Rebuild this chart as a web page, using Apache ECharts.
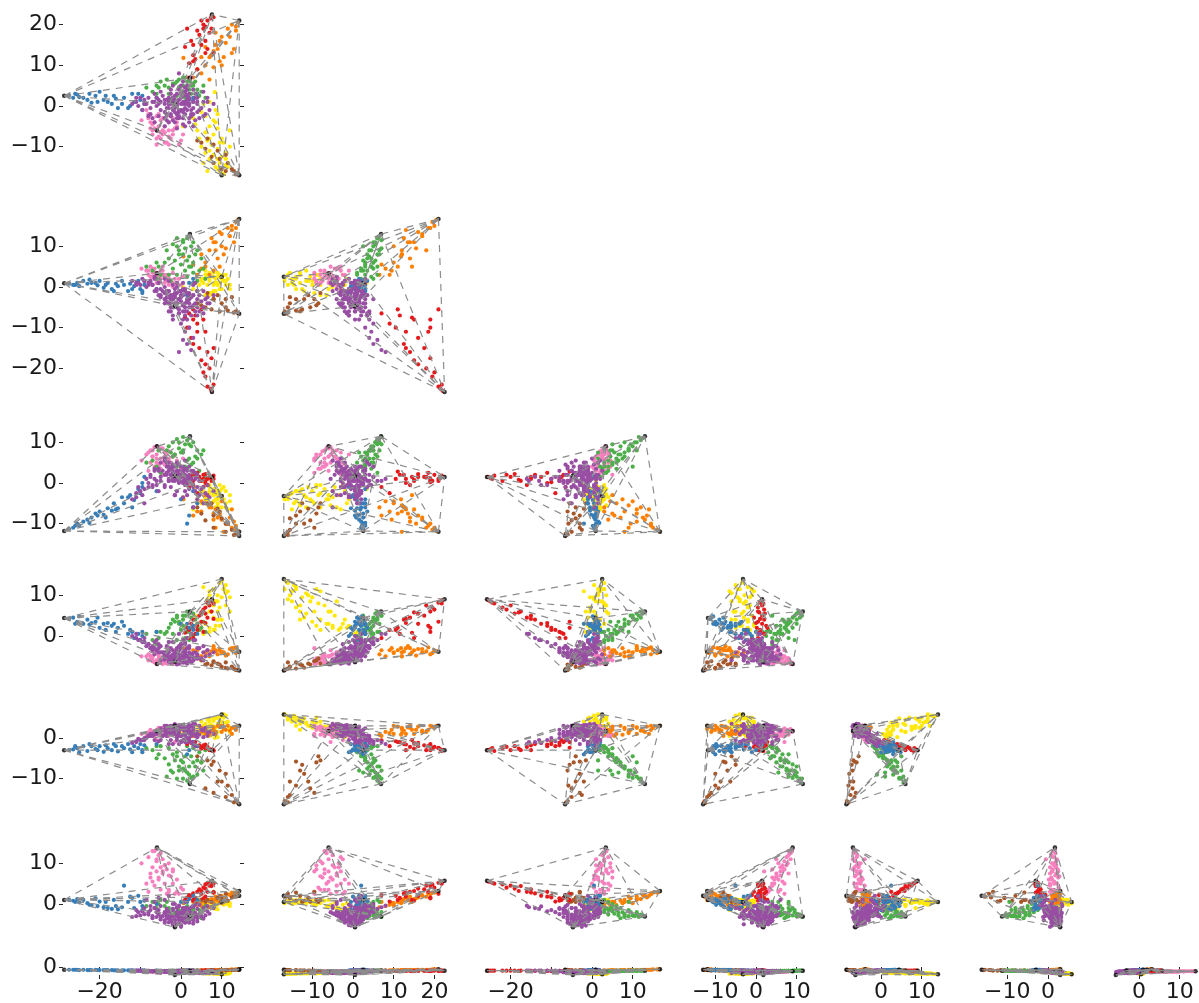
<!DOCTYPE html>
<html><head><meta charset="utf-8">
<script src="https://cdn.jsdelivr.net/npm/echarts@6/dist/echarts.min.js"></script>
<style>html,body{margin:0;padding:0;background:#fff}#c{width:1199px;height:1003px}</style>
</head><body><div id="c"></div>
<script>
// Each row: [PC1,PC2,PC3,PC4,PC5,PC6,PC7,PC8]
const bluePts=[[-27.5,2.5,.8,-11.3,4.2,-3,1,-.9],[-26.5,2,.5,-11,4.5,-2.8,.8,-.9],[-25.5,2.8,1,-10,3.5,-2.5,1.2,-.9],[-25,2.2,.2,-10.5,4.8,-3.5,.4,-1],[-24,2,1.5,-9.5,3,-2,1,-.9],[-23,1.5,.8,-9,4,-3.2,.2,-1],[-22.5,3,1.8,-9.8,2.8,-1.5,-.2,-1],[-21,2.5,1,-7.5,3.5,-2.7,1.4,-.9],[-20.5,1,.4,-8,4.5,-3,-.5,-1],[-20,3.5,1.5,-7,2,-2,.6,-1],[-19,1.5,-.2,-7.8,3,-3.4,-.8,-1],[-18.5,2.5,.5,-8.5,1.5,-1.8,.5,-1],[-18,1,1,-6.2,3.2,-2.5,-1,-1],[-17,.5,-.5,-6.8,2.5,-3,-1.2,-1],[-16,1.8,.8,-6.5,1,-2,-.5,-1.1],[-15.5,-.5,.2,-6.2,2,-3.3,-1.3,-1.1],[-14,2,.5,-5,2.5,-2.5,4.5,-1.1],[-13,-.5,-1,-3.5,.5,-1.5,.5,-1.1],[-12.5,0,.8,-3,1.5,-2.8,1.8,-1.1],[-11.5,1,.2,-4.2,-.5,-2,-1,-1.2],[-10.5,3,1.5,-1.5,.5,-2.5,2,-1.2],[-10,1.5,-.5,-2.5,-1,-1.5,.5,-1.2],[-9.5,2.5,-1,0,1,-3,-.5,-1.2],[-9,.5,.5,1.5,-1.5,-1.8,.8,-1.2],[-9.5,-1,-1.5,-1,0,-3.5,-1.5,-1.2],[-6,2,-.5,-2,1,-1.5,0,-1.2],[3,1.5,2,-2,1.5,-1,2,-1.2],[4,3,-1,-5,.5,-2,1,-1.2],[2,.5,1,-8,2,-3,1.2,-1.2],[1.5,2.5,-2,-10,3,-4,.5,-1.1],[-26,3,.5,-10.5,3,-2,.5,-.9],[-22,.8,1,-8.5,3.2,-2,-.3,-1],[-16.5,2.5,-1,-5,3,-1.5,1,-1.1],[-12,3,-.5,-6,1,-3.5,1.5,-1.1],[-14.5,.5,1.5,-3.5,3.5,-2,-.8,-1.1],[0,3,-1,-4,3,-1,.5,-1.2],[3,2,1,-6,2.5,-1.5,-.5,-1.2]];
const orangePts=[[14,20.5,16.5,-11.8,-3.8,3,3,-.8],[13.5,19.5,16,-11.5,-4.2,2.8,2.8,-.8],[12.5,20,15,-11,-3.5,2.5,2.8,-.8],[13.5,18.5,14.5,-10.5,-2.8,2,2.6,-.9],[11.5,19,14.5,-10,-4.5,3,2.4,-.9],[13,14,11,-9.5,-3,2.5,1.8,-.9],[10,17,13,-9,-4,1.5,2,-.9],[9.5,16,13.5,-8,-3.2,2.8,1.6,-.9],[11,15.5,9.5,-10,-4.8,2,1.4,-.9],[8.5,15,11,-6.5,-3.5,1,1.2,-1],[8,13.5,11,-7.5,-2.5,2.6,1,-1],[9,14,7,-8.5,-4.5,3,.8,-1],[7.5,12.5,12,-6,-3.8,1.8,1.2,-1],[7,12,9,-5.5,-5,1.2,.6,-1],[.6,11.8,7.5,-4,-3,.8,.2,-1],[9.5,11,5,-7.5,-3.5,2.8,.5,-1],[6,10,6,-5,-4.2,1,-.3,-1.1],[8,9.5,4,-9,-3,2,.3,-1.1],[5,8,4.5,-4.5,-5,1.5,-.5,-1.1],[10.5,12,8,-12,-4,2.2,1,-1],[7,6.5,3,-6,-4.5,.8,-.8,-1.2],[4,9,3,-7,-3.5,1.2,-.2,-1.1],[12,17,12.5,-8.5,-3.2,1.8,2.2,-.9],[6,14.5,5,-3,-4,2,.5,-1],[12.5,13,14,-6.5,-3,1,2,-.9],[5,12,8,-7,-5,2.5,.5,-1],[8.5,18,9,-11,-3.8,1.5,1.8,-.9],[10,10,10,-4.5,-4,3,.2,-1],[3,7,5.5,-8,-3.5,.5,.5,-1.1]];
const greenPts=[[2,6.5,12.5,11,5.5,-11,-3,-1.2],[1.5,6,12,10.5,6,-10.5,-2.8,-1.2],[.5,7,11.5,11.3,5,-10,-3.2,-1.2],[3,5.5,11,10,5.5,-9.5,-2.5,-1.2],[-1,6,12,10.8,4.5,-10,-2.6,-1.2],[2.5,5,10,9,4.5,-9.8,-2.8,-1.2],[-2,5.5,10.5,10,4,-8.5,-3,-1.2],[1,7,9.5,9.5,5,-8,-2,-1.2],[4,4,9,8,3,-9,-3,-1.3],[-.5,4.5,9,8.5,3.5,-8,-1.5,-1.3],[3.5,6,8,6.5,4,-7,-2.5,-1.3],[.5,3.5,8,7.5,2.5,-7.5,-3.2,-1.3],[-3,4.5,7,9,2,-6.5,-1,-1.3],[2,4,7.5,6,1.5,-7,-2,-1.3],[-1.5,5.5,6.5,7,3.5,-5.5,-2.2,-1.3],[1.5,2.5,6.5,5.5,1,-8.5,-2.8,-1.3],[3,5,6,5,2.5,-6,-1.5,-1.3],[-4,5,6,6,.5,-5,-.5,-1.3],[0,3,5.5,7.5,1.5,-5.5,-2.4,-1.4],[2.5,3,5,4.5,.5,-4.5,-1.8,-1.4],[-5.5,4.5,5,8,-.5,-4,0,-1.4],[-2,2,4.5,6.5,.5,-4,-1.2,-1.4],[1,2,4,4,-.5,-4.5,-2.6,-1.4],[4.5,2.5,4,3,1.5,-3.5,-1.5,-1.4],[-7,3.5,4,5.5,-1,-3,.5,-1.4],[-8.5,4.5,5,5,.5,-2.5,-.5,-1.4],[-1,1,3,5,-1,-3.5,-2,-1.4],[3,1,3.5,2.5,0,-2.5,-1,-1.4],[-3,3,3,4,-1.5,-2.5,-1.5,-1.4],[-5,6,3,2.5,1,-2,1,-1.4],[1.5,4.5,2.5,3.5,1,-2,-.5,-1.4],[5,3.5,7,7,2,-6,-3.5,-1.3],[-.5,6.5,8,10,3,-7,-3,-1.3],[-6,5,2,4,-2,-2,.5,-1.4],[6,2,2,1.5,1,-3,-.5,-1.3],[-6,3,6,3.5,1,-5,-1,-1.3],[5.5,5,4.5,8,3.5,-8,-1,-1.3],[-3.5,6.5,9,8,1,-9.5,.5,-1.3],[.5,5,11,8,4,-6,-2,-1.3],[4,3,1.5,6,2.5,-5.5,-2.8,-1.3],[-1,2.5,10,4,5,-4.5,-2.8,-1.3],[2,6,5,9.5,-1,-9,-1.5,-1.3],[-2.5,1.5,1.5,7.5,3,-8,-3,-1.3]];
const redPts=[[7.5,22,-25.5,1.5,8.8,-3,5.5,-1.2],[7.3,21.5,-25,1.2,8.5,-2.8,5.4,-1.2],[8,21.8,-24,1.8,8,-3.2,5,-1.2],[6.5,21,-24.5,1,8.2,-2.5,5.2,-1.2],[6,19.5,-22,.5,7,-2.5,4.8,-1.2],[7,18,-20,1.5,7.5,-3,4.5,-1.2],[5.5,20,-21,2,6.5,-2.2,4,-1.2],[7.5,19,-17.5,.5,6,-3,4.4,-1.2],[6,16,-19,2.2,5.5,-2,3.8,-1.2],[5,15,-18,.8,5.8,-2.6,3.2,-1.3],[4.5,17.5,-15,1.5,5,-1.8,3.6,-1.3],[6.5,14,-16,-.5,4.5,-2.2,3,-1.3],[8,13,-15,1,4.2,-3,2.8,-1.3],[3,12.5,-14,2,4,-1.5,2.6,-1.3],[5,21,-5.5,.5,3.5,-2.4,2.5,-1.3],[2.5,16,-12.5,1.5,3,-1.2,2,-1.3],[4,18.5,-11,2.5,2.5,-2,3,-1.3],[6,13,-11,0,3.2,-1.6,1.8,-1.3],[2,10.5,-10,1,1.5,-.8,2,-1.4],[1.5,19,-10,.2,2,-1.5,1.6,-1.3],[5.5,19,-8,1,1,-1.8,1.4,-1.3],[3.5,11.5,-7,2,.5,-1,1.5,-1.4],[1,14.5,-7.5,1.5,.8,-.5,1,-1.4],[3,15,-8,.5,-.5,-1.2,.8,-1.4],[2,7,-6.5,-1,-.5,-.6,2.2,-1.4],[4,9,-9,-2.5,1.5,-2,.6,-1.4],[3,11,-5.5,2.8,2,-1,1,-1.4]];
const purplePts=[[-1.5,.5,-4.5,1.8,-6,3,-5.5,-1.6],[-1,0,-4,1.5,-5.8,2.5,-5,-1.6],[0,-1,-3.5,2,-6,2.8,-5.2,-1.7],[-2,1,-3,2.5,-5.5,2,-4.8,-1.5],[1,.5,-5,1,-6.2,2.2,-4.5,-1.7],[-3,-.5,-2.5,3,-5,2.6,-4.5,-1.6],[-.5,1.5,-5.5,.5,-5,1.5,-4.8,-1.5],[.5,-1.5,-2,2.5,-6.5,3.2,-4.2,-1.8],[2,0,-4,.5,-5.5,1.8,-4,-1.7],[-2.5,-2,-2,3.5,-6,3,-4,-1.7],[-4,.5,-1.5,2,-4.5,2,-4,-1.6],[1.5,1.5,-3.5,.5,-4.8,1.2,-4.2,-1.6],[3,-.5,-4.5,-.5,-6,2.5,-3.8,-1.8],[-1.5,2.5,-4,1,-4.2,1,-3.8,-1.4],[-5,-1,-.5,1.5,-4,1.5,-3.8,-1.6],[.5,2.5,-6,0,-4.5,.8,-3.8,-1.4],[2.5,-2,-2.5,1,-6.5,3,-3.5,-1.9],[-3.5,1.5,-2.5,4,-4.8,1.5,-3.5,-1.5],[-.5,-3,-1,3,-6.8,3.2,-3.4,-1.8],[4,1,-5,-1,-5,1.5,-3.5,-1.7],[-6,0,-.5,.5,-3.5,1.2,-3.2,-1.5],[1,3.5,-7,.5,-4,.5,-3.2,-1.4],[-2,-3.5,.5,4.5,-6.2,2.5,-3,-1.7],[5,-.5,-3.5,-1.5,-5.5,2,-3,-1.9],[-4.5,2.5,-1,3,-4,.5,-3,-1.4],[2,-3,-1.5,.5,-6,3.2,-3,-1.9],[-7,1,.5,-.5,-2.5,.8,-3,-1.4],[3.5,2,-6,-2,-4,.5,-3,-1.5],[-1,3,-5,3,-3.5,.2,-2.8,-1.4],[-3,-4,1.5,5,-5.5,2.2,-2.8,-1.6],[6,-2,-3,-2.5,-5,2.5,-2.8,-2],[-8,2,1,0,-2,.5,-2.6,-1.3],[.5,-4.5,1,2,-6.5,3,-2.5,-1.9],[-5.5,-2.5,1,3.5,-4,1.5,-2.5,-1.5],[4.5,-3,-2,-3,-5.5,3,-2.5,-2],[1.5,4,-8,.5,-3,0,-2.5,-1.3],[-2.5,4,-6,2,-3,-.5,-2.4,-1.3],[-9,.5,1.5,-1.5,-1.5,0,-2.5,-1.3],[7,-1,-4,-3.5,-4.5,1.5,-2.4,-2],[-4,-5,2,5.5,-5.8,2,-2.3,-1.6],[2.5,-1,-7,0,-4.5,1.5,-2.2,-1.7],[-10,2,.5,-2,-1,-.5,-2.8,-1.2],[-.5,-1.5,-6.5,2,-4.5,2.5,-2.2,-1.6],[-11,1,1,-3.5,-.5,-.8,-3,-1.2],[-12,.5,1.5,-4,0,-1.2,-3.2,-1.2],[-9.5,-1,2,-3,-1.5,-.5,-1.8,-1.3],[-7.5,-2,1.5,2,-3,.5,-1.5,-1.4],[-6.5,3,2,1,-1.5,-.5,-1,-1.3],[-3,.5,-6,4,-4,1.5,-2,-1.4],[0,5,-9,1.5,-2,-.8,-2,-1.2],[1,4.5,-11,-.5,-1.5,-.5,-1.8,-1.2],[2,3,-10,1,-2.5,0,-1.5,-1.2],[.5,6,-13,.5,-1,-.5,-1.2,-1.2],[1.5,5,-14,1.5,-.5,-1,-1,-1.2],[2.5,7,-15.5,.5,.5,-1,-.8,-1.2],[3,4,-12.5,-.5,-1,-1.2,-.6,-1.2],[-.5,8,-16,1,.5,-1.5,-.4,-1.2],[4,2,-7,-4,-3,1,-1.2,-1.7],[5.5,1,-5,-5,-4,1.8,-1,-1.8],[3,-5,.5,-6,-6,3.5,-.5,-2],[-2,-1,-7,.5,-4.8,3,-1.5,-1.5],[.5,.5,-8,3,-4,2,-1,-1.4],[-1,-2,-5,5,-5,2.2,-1,-1.5],[6.5,2,-2.5,-.5,-3.5,.5,-.5,-1.7],[8,.5,-2,-2,-4,1,-1,-1.9],[-5,3.5,-2,5,-2.5,-.5,-.5,-1.3],[-2,5,-3,4,-1.5,-1.5,0,-1.3],[-6.5,-4,2.5,3,-4.5,1,.5,-1.4],[-4,-3,0,6,-4.5,1.8,1,-1.5],[-1.5,-4,-.5,-3,-6,3.4,0,-1.8],[-8.5,.5,0,1,-2.5,0,1,-1.3],[-5.5,1.5,1,-2,-2,-.8,1.5,-1.3],[-3,2,-1,.5,-1.5,-1.5,2,-1.3],[1,1,-.5,2,-2,-1,.5,-1.4],[3.5,3,1,1,-1,-2,-.2,-1.4],[-1,.5,0,2.5,-3,-.5,-.8,-1.4],[-3.5,-.5,-3.5,2,-2.5,.5,-1.8,-1.4],[-7,-3,.5,-1,-3.5,.5,-3.5,-1.5],[2,.5,-2,-1.5,-3,-.2,-2,-1.5],[-.5,-2.5,-3,0,-3.5,1,-3.8,-1.6],[-2.5,.5,-5,-1,-5.5,2.5,-4.2,-1.6],[1,-2,-6,3.5,-5.2,1.5,-4.6,-1.7],[-1,1,-1.5,-2,-4,1,-3,-1.5],[3,1,-2,3,-4.2,2,-4.8,-1.7],[-4,-1.5,-3,-.5,-5,3,-2,-1.5],[0,2,-1,4,-3,-1,-4,-1.4],[-1.5,-.5,-1.5,.5,-5.5,1,-5.3,-1.6],[1.5,-1,-3,3,-6.8,1.8,-3.2,-1.8],[-3,.5,-4,.5,-6.3,2.8,-2.5,-1.6],[4,-1.5,-1,1.5,-4.5,1,-4.3,-1.8],[-2,2,-2,1,-5,1.5,-4.5,-1.5],[1,-.5,-1,3.5,-4.5,2.5,-3.5,-1.6],[-.5,-1,-3,.5,-5.5,2,-4,-1.6],[.5,1,-4.5,2.5,-5,.8,-3.2,-1.5],[-1.5,-1.5,-2,4,-6,1.8,-4.2,-1.7],[2,1.5,-3,2,-4,2.8,-4.6,-1.6],[-3,1,-1,1,-3.5,2.2,-3.6,-1.5],[3,-2,-2,-1,-5.2,1.2,-4,-1.8],[-2,-.5,-5,3,-4.5,3,-5,-1.6],[0,.5,-2.5,1.5,-6.5,.5,-5.6,-1.7],[1.5,2.5,-1.5,-.5,-3,2,-3.4,-1.5],[-1,-3,-4,1,-5,2.8,-2.8,-1.7],[4,.5,-3,2,-5.5,.2,-3,-1.7],[-4,1.5,-4,-1,-4,.8,-4.6,-1.5],[-2.5,3,-3,3.5,-5,2.4,-3,-1.4],[2.5,-2.5,-5,3,-4.8,.5,-2.6,-1.8],[-5.5,.5,-2,3,-3,1.8,-1.5,-1.4],[5.5,-2.5,-1,-1,-6,2.2,-3.6,-2],[6.5,1,-4,-3,-3.5,1.5,-1.8,-1.8],[-6,2,-1,-.5,-1,1,-2,-1.3],[-7.5,-.5,1,1.5,-3,1,-.5,-1.4],[-8,-2.5,.5,-1,-2,.5,-2,-1.4],[-10.5,0,1,-1,-1,-.2,-2,-1.2],[-9,1.5,1.5,-5,-.5,-.5,-1,-1.2],[-11,2,.5,-2.5,.5,-1,-1.5,-1.2],[-6.5,1,-1,3.5,-3,1.5,-1,-1.4],[-3.5,-2,-1,2.5,-4,3,-1.2,-1.5],[-.5,4,-6.5,4.5,-2.5,.5,-.6,-1.3],[1,3,-4,5.5,-3.5,-.5,-1,-1.4],[2,-4,-3,4,-5.8,2.6,-1.8,-1.8],[4.5,-1,-6,.5,-3,.8,-.2,-1.7],[-1,-5.5,1,1,-7,2.8,-2,-1.9],[1,-5,-1,-2,-6.5,2,-1,-1.9],[3.5,-3.5,-4,2.5,-5.5,3.4,-2.2,-1.9],[5.5,3.5,-6.5,-1,-2.5,.2,-1.6,-1.6],[-2,1.5,-8,1.5,-3.5,1,-1.2,-1.4],[-3.5,-3.5,-1.5,5,-5,.5,-3,-1.6],[.5,-1,-.5,-3.5,-4.5,3,-2.6,-1.7],[1.5,.5,-6,-3,-5,2.8,-3.6,-1.7],[-1.5,1.5,-2.5,-3,-4.8,2,-5,-1.5],[0,3,-2,2,-2,.5,-3,-1.4],[-2.5,-2.5,-4,2,-6.6,1,-3.8,-1.7],[-5,1,-2.5,.5,-6,2.4,-3.2,-1.5],[2,2,-5,1.5,-6,1,-4.4,-1.6],[.5,-3,-4.5,4,-5.5,3,-3,-1.8]];
const brownPts=[[14,-16.5,-6.5,-12.5,-8.2,-16,2,-.9],[13.5,-16.8,-6,-12.6,-8.4,-15.5,1.8,-.9],[13,-16,-6.3,-12.8,-8,-15.8,1.9,-1],[12.5,-15.5,-2.5,-11.5,-7.5,-14,1.6,-1],[11.5,-14,-5.8,-10,-8,-11.7,.8,-1],[10,-15.5,-4,-8.7,-7.6,-10.7,1.5,-1.1],[9.5,-13,-6,-7,-7,-8,2,-1.1],[11,-12,-3,-10,-7.8,-8.8,.8,-1.1],[8,-14,-3,-8,-6.5,-5.8,2.8,-1.1],[7.5,-12.5,-5.5,-5,-7.2,-6.6,.5,-1.2],[9,-11,-2,-6.3,-6.8,-10.7,1.5,-1.2],[6,-10.5,-5,-9.2,-7,-12.4,.6,-1.2],[8,-9.5,-3,-11,-6.2,-13.5,3,-1.2],[5,-9,-4.5,-7.5,-6,-6,1,-1.3],[6.5,-8,-1.5,-5,-6.8,-5.5,1,-1.3],[4,-8.5,-4,-6,-5.5,-4.5,.5,-1.3],[11,-16,-5,-12,-6.5,-14.5,2.5,-1]];
const pinkPts=[[-6,-6,3.2,9,-6.8,1.7,13.5,-1.4],[-6.5,-5.5,3.5,8.8,-6.5,1.5,13,-1.4],[-5,-6.5,3,8.5,-6.6,1.8,12.5,-1.4],[-7,-7,3.5,8,-6.2,1.2,13,-1.4],[-8,-3,4,7.5,-6,1.4,11.5,-1.4],[-5.5,-5,2.5,8,-5.8,.8,12,-1.4],[-4.5,-6,3,8.5,-6.9,2.2,11,-1.4],[-9.7,-3.5,4.5,5.5,-5,1,10,-1.4],[-6,-8,3,7,-6.4,2,10.5,-1.4],[-4,-5,2.5,7.5,-6,1.5,9.5,-1.5],[-7,-4.5,4.5,6.5,-5.5,.5,9,-1.5],[-3,-7.5,2,7.8,-5.5,1.5,10,-1.5],[-5,-3.5,2,6,-6.5,2,9,-1.5],[-3.5,-9,1.5,7,-6.8,2.4,8.5,-1.5],[-6,-9.5,3.5,6,-6,1,8,-1.5],[-2,-6,1,6.5,-5,1,8,-1.5],[-4.5,-7,4,5,-5.2,.5,7.5,-1.5],[-3,-4,.5,6,-6.2,1.8,7,-1.5],[-7.5,-5.5,5,5,-4.8,.8,6.5,-1.5],[-2.5,-8,1,5,-6.4,2.8,6.8,-1.5],[-5.5,-2,1.5,4.5,-5.5,1,6,-1.5],[-1,-5,.5,5.5,-4.5,.2,6,-1.5],[-4,-6.5,3,4.5,-6.6,2.2,5,-1.5],[-2,-3,0,4,-5.8,1.5,5,-1.5],[-6.5,-4,4.5,4,-4,.5,4.5,-1.5],[0,-8.5,.5,3.5,-6,2.6,4,-1.6],[-3,-6,2,3,-5,1.2,3.5,-1.6],[-5,-8,4,3.5,-5.5,.8,3.5,-1.6],[-1,-4,1,3,-4,1.8,3,-1.6],[-3.5,-2.5,3,2.5,-6.5,2,2.5,-1.6],[-.5,-9.5,2,2.5,-6.8,3,2.5,-1.6],[-7,-6,2.5,6.5,-5,1.5,5.5,-1.5],[-2,-7,3.5,4,-6.8,1.2,8.5,-1.5],[-4,-9,1,6.5,-5.5,2,9.5,-1.5],[-8,-2,3,3,-4.5,1,3,-1.5],[-8.5,-1,4,7,-5,.5,5,-1.5],[-1.5,-5.5,2,7,-3.5,-1,2.5,-1.5],[-4.5,-3,5,2,-6,2.5,8,-1.5],[-6,-2.5,1,5,-4,-.5,11,-1.5],[-3,-9.5,3,5.5,-3,.5,3,-1.6],[-5.5,-7.5,1.5,4,-4.8,2.5,6.5,-1.5],[.5,-7,2.5,6,-4.5,.8,3.5,-1.6],[-7.5,-4,2.5,8,-5.5,2,7.5,-1.4]];
const yellowPts=[[10,-16.5,2.5,-3.2,13.5,5.5,.5,-2.3],[9.5,-16,3,-3.5,13,5.2,.6,-2.3],[10.5,-16.8,1.5,-4,11.5,5.8,.2,-2.3],[9,-15.5,3.5,-2.8,10,5,.8,-2.3],[8.5,-15,1,-2.5,8.5,4.8,1,-2.2],[11,-14.5,.5,-5,12.5,5.5,.3,-2.2],[9.5,-14,-.5,-2,7,5,.6,-2.2],[8,-14,2.5,-4.5,11.5,4.2,.9,-2.2],[7,-13,3.5,-5.5,6,4.5,1,-2.1],[10,-12.5,-.5,-1.5,9.5,4,.4,-2.1],[8,-12,-1,-3,4.5,4.8,.8,-2.1],[11,-11.5,1.5,-6,10.5,3.8,.1,-2.1],[6,-11.5,4,-3.5,5.5,3.5,1,-2],[9,-10.5,2.5,-4,8.5,3,.5,-2],[5,-10,1.5,-2,3.5,4,.7,-2],[12,-10,.5,-4.5,9.5,2.5,.2,-2],[7.5,-9.5,-1.5,-5,6,3.2,-.2,-2],[9.5,-9,1,-.5,2.5,3.8,.9,-2],[6.5,-8.5,3,-3,8,2.5,.5,-1.9],[10,-8,2,-6,4,3,.2,-1.9],[4.5,-8,.5,-2.5,1.5,2,1,-1.9],[8,-7,3.5,-1.5,7.5,2.8,.8,-1.9],[6,-6.5,-2,-4,3,2.2,-.5,-1.9],[9,-5.5,.5,-5.5,6,1.5,-.2,-1.8],[7,-5,2,-2,2,2.8,-.6,-1.8],[3.5,-4.5,1,-1,5,1.8,.4,-1.8],[8,-3.5,.5,-3,1.5,1,-1,-1.8],[6,-2.5,3,-.5,3,2,-.2,-1.7],[8.5,-1,-1,-4,2.5,.8,-1.2,-1.7],[5,-1.5,2,-5,2,1.2,.2,-1.7],[8.3,3.4,1,-1.5,1.5,0,-1,-1.6],[7,1,-1.5,-2.5,1,.5,-.8,-1.6],[5.5,.5,1,.5,.5,1,-1.2,-1.6],[3,-3,-.5,-6.5,2,.5,-1.5,-1.7],[.5,-5,0,-3.5,2.5,1.5,-1,-1.7],[9,-2,.5,-2,4,.2,-1.3,-1.7],[7,-11,1.5,-1,10,3,.8,-2.1],[11.5,-15,2,-6.5,11,4,0,-2.2],[4,-6,3,-4,3,3,1,-1.8],[11,-13,3,-2,7.5,2,.2,-2.1],[7,-8,-2,-.5,11,4,.5,-2],[12,-6,-.5,-3,6,1.5,-.5,-1.9],[9,-13,1,-5,4,3.5,1.2,-2],[5.5,-14,2,-2,12,3,.3,-2.1],[10.5,-9,3,-1,11.5,5,-.2,-2.1],[8.5,-4,2,-6,8.5,2.5,-1,-1.9],[6.5,-16,.5,-4,9,4.5,.8,-2.2]];
// Black corner points: blue, orange, green, red, purple, brown, pink, yellow
const corners=[[-28.7,2.5,.9,-11.8,4.4,-3,1,-.9],[14.3,21,16.7,-12,-3.9,3,3.2,-.7],[2.2,6.9,13,11.5,6,-11.3,-3.1,-1.2],[7.6,22.5,-25.8,1.5,9,-3,5.7,-1.2],[-1.5,.5,-4.7,1.8,-6.3,3,-5.7,-2.6],[14.3,-17,-6.6,-13,-8.5,-16.3,2,-.9],[-5.9,-6,3.4,9,-6.9,1.7,13.9,-1.4],[10,-17,2.5,-3.2,14,5.8,.5,-2.4]];
const colTicks=[[-20,-10,0,10],[-10,0,10,20],[-20,-10,0,10],[-10,0,10],[0,10],[-10,0],[0,10]];
const rowTicks=[[20,10,0,-10],[10,0,-10,-20],[10,0,-10],[10,0],[0,-10],[10,0],[0]];
const dimMin=[-29,-17.2,-26,-13,-8.6,-16.4,-5.8,-2.63];
const dimMax=[14.5,22.6,16.8,11.6,14.2,6,14,0];

// layout
const PX=4.07;
const colZero=[181,353,592,756,881,1048,1139];
const rowZero=[106,287,483,636,738,904,967];
const FONT={fontFamily:'DejaVu Sans',fontSize:22,color:'#1a1a1a'};
const TICK={show:true,length:4,lineStyle:{color:'#262626',width:1}};
const fmt=v=>String(v).replace('-','\u2212');

const classes=[[yellowPts,'#ffe80a'],[pinkPts,'#f781bf'],[orangePts,'#ff7f00'],[brownPts,'#a65628'],[greenPts,'#4daf4a'],[redPts,'#e41a1c'],[bluePts,'#377eb8'],[purplePts,'#984ea3']];
const grid=[],xAxis=[],yAxis=[],series=[];
for(let r=0;r<7;r++){for(let c=0;c<=r;c++){
  const xd=c,yd=r+1,gi=grid.length;
  const left=colZero[c]+PX*dimMin[xd],width=PX*(dimMax[xd]-dimMin[xd]);
  const top=rowZero[r]-PX*dimMax[yd];
  const height=r===6?10.7:PX*(dimMax[yd]-dimMin[yd]);
  grid.push({left,top,width,height});
  const xBase={type:'value',gridIndex:gi,min:dimMin[xd],max:dimMax[xd],splitLine:{show:false},axisLine:{show:false,onZero:false}};
  const yBase={type:'value',gridIndex:gi,min:dimMin[yd],max:dimMax[yd],splitLine:{show:false},axisLine:{show:false,onZero:false}};
  const xi=xAxis.length,yi=yAxis.length;
  if(r===6){
    xAxis.push({...xBase,position:'bottom',axisTick:{...TICK,customValues:colTicks[c]},axisLabel:{...FONT,margin:6,customValues:colTicks[c],formatter:fmt,hideOverlap:false,showMinLabel:true,showMaxLabel:true}});
    xAxis.push({...xBase,position:'top',axisTick:{...TICK,inside:true,customValues:colTicks[c]},axisLabel:{show:false}});
  }else xAxis.push({...xBase,axisTick:{show:false},axisLabel:{show:false}});
  if(c===0){
    yAxis.push({...yBase,position:'left',axisTick:{...TICK,customValues:rowTicks[r]},axisLabel:{...FONT,margin:6,customValues:rowTicks[r],formatter:fmt,hideOverlap:false,showMinLabel:true,showMaxLabel:true}});
    yAxis.push({...yBase,position:'right',axisTick:{...TICK,customValues:rowTicks[r]},axisLabel:{show:false}});
  }else yAxis.push({...yBase,axisTick:{show:false},axisLabel:{show:false}});
  for(const [pts,color] of classes){
    series.push({type:'scatter',xAxisIndex:xi,yAxisIndex:yi,symbolSize:4.2,clip:false,silent:true,itemStyle:{color,opacity:1},data:pts.map(p=>[p[xd],p[yd]])});
  }
  series.push({type:'scatter',xAxisIndex:xi,yAxisIndex:yi,symbolSize:4.5,clip:false,silent:true,itemStyle:{color:'#000'},data:corners.map(p=>[p[xd],p[yd]])});
  const seg=[];
  for(let a=0;a<corners.length;a++)for(let b=a+1;b<corners.length;b++){
    seg.push([corners[a][xd],corners[a][yd]],[corners[b][xd],corners[b][yd]],['-','-']);
  }
  series.push({type:'line',xAxisIndex:xi,yAxisIndex:yi,clip:false,silent:true,showSymbol:false,connectNulls:false,lineStyle:{color:'#8c8c8c',width:1.2,type:[7,6]},data:seg});
}}
const chart=echarts.init(document.getElementById('c'),null,{renderer:'canvas'});
chart.setOption({animation:false,backgroundColor:'#fff',tooltip:{show:false},legend:{show:false},grid,xAxis,yAxis,series});
</script></body></html>
